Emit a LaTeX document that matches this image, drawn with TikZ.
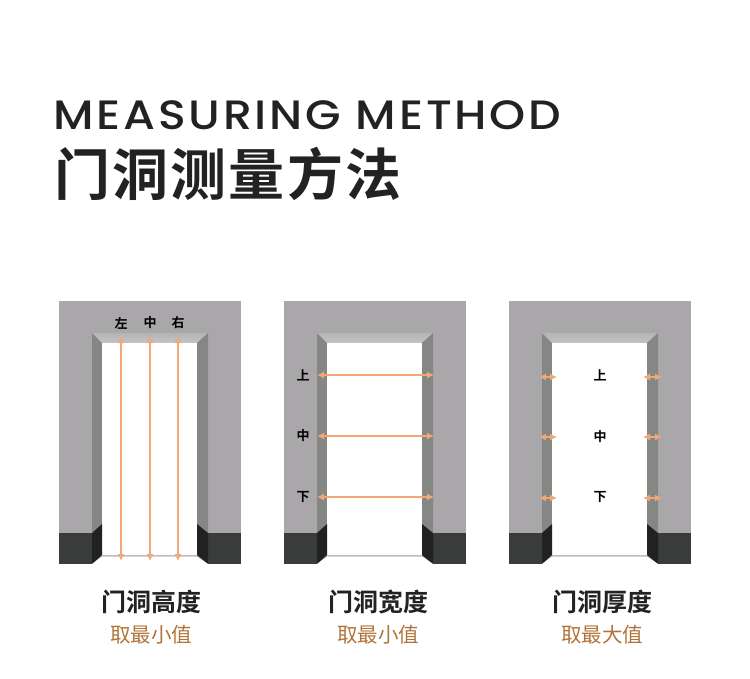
\documentclass[tikz,border=0pt]{standalone}
\usepackage{fontspec}
\usepackage{xcolor}
\usetikzlibrary{
    arrows.meta,
    positioning
}
\newfontfamily\latinfont[LetterSpace=6.8, FakeStretch=1.12]{Poppins Medium}
\newfontfamily\cjkfont{Noto Sans CJK SC Bold}
\newfontfamily\cjktitle[LetterSpace=4]{Noto Sans CJK SC Bold}
\newfontfamily\cjklight{Noto Sans CJK SC}
\definecolor{wall}{HTML}{A9A7A9}
\definecolor{lintel}{HTML}{BDBDBD}
\definecolor{lintelhi}{HTML}{C4C4C4}
\definecolor{lintello}{HTML}{B4B4B4}
\definecolor{reveal}{HTML}{858785}
\definecolor{skirt}{HTML}{3A3C3C}
\definecolor{skirtside}{HTML}{1F2122}
\definecolor{gaugecol}{HTML}{F0A878}
\definecolor{brown}{HTML}{B0743A}
\definecolor{ink}{HTML}{222222}
\tikzset{
    gauge/.style={{Latex[length=7pt,width=7pt]}-{Latex[length=7pt,width=7pt]}, draw=gaugecol, line width=1.2pt},
    spot/.style={font=\cjkfont\fontsize{13}{13}\selectfont, text=black, inner sep=0pt},
    heading/.style={font=\cjkfont\fontsize{25}{25}\selectfont, text=ink, inner sep=0pt},
    rule/.style={font=\cjklight\fontsize{20.5}{20.5}\selectfont, text=brown, inner sep=0pt}
}
\begin{document}
\begin{tikzpicture}[x=1pt, y=1pt]
    \useasboundingbox (0, 0) rectangle (750, -678);
    \node[anchor=west, inner sep=0pt, text=ink, font=\latinfont\fontsize{41}{41}\selectfont] (title) at (53, -115) {MEASURING METHOD};
    \node[anchor=west, inner sep=0pt, text=ink, font=\cjktitle\fontsize{56}{56}\selectfont] (titlecn) at (54, -174) {门洞测量方法};
    \begin{scope}[shift={(59, -301)}]
        \fill[wall] (0, 0) rectangle (182, -263);
        \shade[top color=lintello, bottom color=lintelhi] (33, -32) -- (149, -32) -- (138, -42) -- (43, -42) -- cycle;
        \fill[reveal] (33, -32) -- (43, -42) -- (43, -223) -- (33, -232) -- cycle;
        \fill[reveal] (149, -32) -- (138, -42) -- (138, -223) -- (149, -232) -- cycle;
        \fill[white] (43, -42) rectangle (138, -254);
        \fill[skirt] (0, -232) -- (33, -232) -- (33, -263) -- (0, -263) -- cycle;
        \fill[skirt] (149, -232) -- (182, -232) -- (182, -263) -- (149, -263) -- cycle;
        \fill[skirtside] (33, -232) -- (43, -223) -- (43, -254) -- (33, -263) -- cycle;
        \fill[skirtside] (149, -232) -- (138, -223) -- (138, -254) -- (149, -263) -- cycle;
        \fill[lintel] (43, -254) -- (138, -254) -- (138, -255.5) -- (43, -255.5) -- cycle;
        \fill[white] (43, -255.5) -- (138, -255.5) -- (149, -263) -- (33, -263) -- cycle;
        \node[spot] (l1) at (62, -22) {左};
        \node[spot] (m1) at (91, -22) {中};
        \node[spot] (r1) at (119, -22) {右};
        \coordinate (lt) at (62, -35);
        \coordinate (lb) at (62, -260);
        \coordinate (mt) at (91, -35);
        \coordinate (mb) at (91, -260);
        \coordinate (rt) at (119, -35);
        \coordinate (rb) at (119, -260);
        \draw[gauge] (lt) -- (lb);
        \draw[gauge] (mt) -- (mb);
        \draw[gauge] (rt) -- (rb);
    \end{scope}
    \begin{scope}[shift={(284, -301)}]
        \fill[wall] (0, 0) rectangle (182, -263);
        \shade[top color=lintello, bottom color=lintelhi] (33, -32) -- (149, -32) -- (138, -42) -- (43, -42) -- cycle;
        \fill[reveal] (33, -32) -- (43, -42) -- (43, -223) -- (33, -232) -- cycle;
        \fill[reveal] (149, -32) -- (138, -42) -- (138, -223) -- (149, -232) -- cycle;
        \fill[white] (43, -42) rectangle (138, -254);
        \fill[skirt] (0, -232) -- (33, -232) -- (33, -263) -- (0, -263) -- cycle;
        \fill[skirt] (149, -232) -- (182, -232) -- (182, -263) -- (149, -263) -- cycle;
        \fill[skirtside] (33, -232) -- (43, -223) -- (43, -254) -- (33, -263) -- cycle;
        \fill[skirtside] (149, -232) -- (138, -223) -- (138, -254) -- (149, -263) -- cycle;
        \fill[lintel] (43, -254) -- (138, -254) -- (138, -255.5) -- (43, -255.5) -- cycle;
        \fill[white] (43, -255.5) -- (138, -255.5) -- (149, -263) -- (33, -263) -- cycle;
        \node[spot] (u2) at (19, -74) {上};
        \node[spot] (m2) at (19, -135) {中};
        \node[spot] (d2) at (19, -196) {下};
        \coordinate (ul) at (33, -74);
        \coordinate (ur) at (150, -74);
        \coordinate (ml) at (33, -135);
        \coordinate (mr) at (150, -135);
        \coordinate (dl) at (33, -196);
        \coordinate (dr) at (150, -196);
        \draw[gauge] (ul) -- (ur);
        \draw[gauge] (ml) -- (mr);
        \draw[gauge] (dl) -- (dr);
    \end{scope}
    \begin{scope}[shift={(509, -301)}]
        \fill[wall] (0, 0) rectangle (182, -263);
        \shade[top color=lintello, bottom color=lintelhi] (33, -32) -- (149, -32) -- (138, -42) -- (43, -42) -- cycle;
        \fill[reveal] (33, -32) -- (43, -42) -- (43, -223) -- (33, -232) -- cycle;
        \fill[reveal] (149, -32) -- (138, -42) -- (138, -223) -- (149, -232) -- cycle;
        \fill[white] (43, -42) rectangle (138, -254);
        \fill[skirt] (0, -232) -- (33, -232) -- (33, -263) -- (0, -263) -- cycle;
        \fill[skirt] (149, -232) -- (182, -232) -- (182, -263) -- (149, -263) -- cycle;
        \fill[skirtside] (33, -232) -- (43, -223) -- (43, -254) -- (33, -263) -- cycle;
        \fill[skirtside] (149, -232) -- (138, -223) -- (138, -254) -- (149, -263) -- cycle;
        \fill[lintel] (43, -254) -- (138, -254) -- (138, -255.5) -- (43, -255.5) -- cycle;
        \fill[white] (43, -255.5) -- (138, -255.5) -- (149, -263) -- (33, -263) -- cycle;
        \node[spot] (u3) at (91, -74) {上};
        \node[spot] (m3) at (91, -136) {中};
        \node[spot] (d3) at (91, -196) {下};
        \coordinate (ula) at (30, -76);
        \coordinate (ulb) at (48, -76);
        \coordinate (ura) at (134, -76);
        \coordinate (urb) at (153, -76);
        \coordinate (mla) at (30, -136);
        \coordinate (mlb) at (48, -136);
        \coordinate (mra) at (134, -136);
        \coordinate (mrb) at (153, -136);
        \coordinate (dla) at (30, -197);
        \coordinate (dlb) at (48, -197);
        \coordinate (dra) at (134, -197);
        \coordinate (drb) at (153, -197);
        \draw[gauge] (ula) -- (ulb);
        \draw[gauge] (ura) -- (urb);
        \draw[gauge] (mla) -- (mlb);
        \draw[gauge] (mra) -- (mrb);
        \draw[gauge] (dla) -- (dlb);
        \draw[gauge] (dra) -- (drb);
    \end{scope}
    \node[heading] (head1) at (151, -602) {门洞高度};
    \node[rule, below=11pt of head1] (rule1) {取最小值};
    \node[heading] (head2) at (378, -602) {门洞宽度};
    \node[rule, below=11pt of head2] (rule2) {取最小值};
    \node[heading] (head3) at (602, -602) {门洞厚度};
    \node[rule, below=11pt of head3] (rule3) {取最大值};
\end{tikzpicture}
\end{document}
